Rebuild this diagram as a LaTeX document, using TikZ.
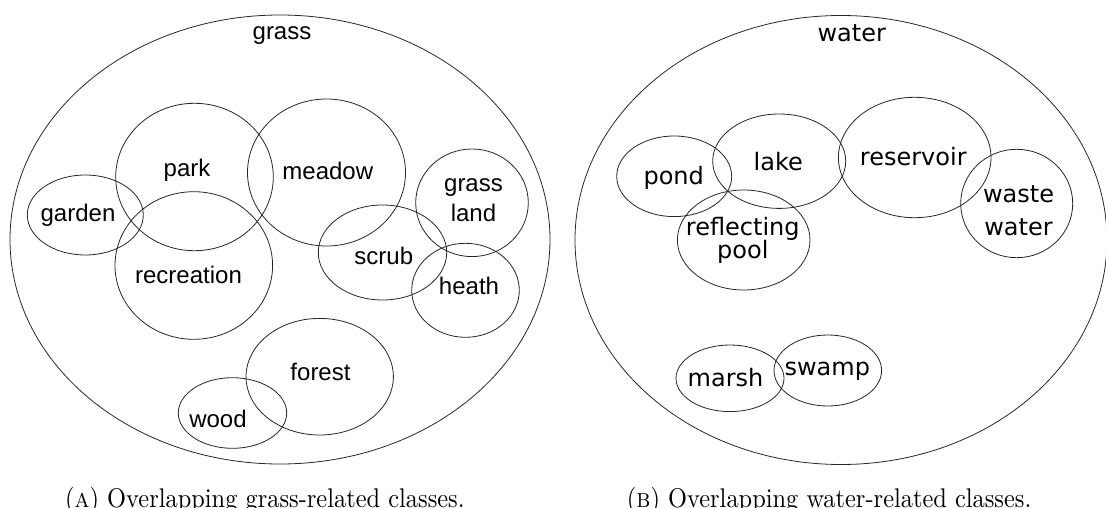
\documentclass[tikz,border=0pt]{standalone}
\usepackage{fontspec}
\usepackage{graphicx}
\newfontfamily\grassfont{Liberation Sans}
\newfontfamily\waterfont{DejaVu Sans}
\begin{document}
\begin{tikzpicture}[x=1pt,y=-1pt,
  region/.style={draw=black!85, line width=0.8pt},
  glabel/.style={font=\grassfont\fontsize{24}{29.3}\selectfont, anchor=base, inner sep=0pt, align=center},
  wlabel/.style={font=\waterfont\fontsize{24}{23.5}\selectfont, anchor=base, inner sep=0pt, align=center},
  figcaption/.style={anchor=base west, inner sep=0pt}]
\useasboundingbox (0,0) rectangle (1106,508);
\clip (0,0) rectangle (1106,508);

% ---------- grass-related classes ----------
\draw[region] (280,239.5) ellipse [x radius=270, y radius=224.5];
\draw[region] (194.5,177) ellipse [x radius=78.8, y radius=73.7];   % park
\draw[region] (326.5,172.5) ellipse [x radius=79, y radius=73.5];   % meadow
\draw[region] (85.3,215) ellipse [x radius=58, y radius=40];        % garden
\draw[region] (193.8,265.5) ellipse [x radius=78.8, y radius=73.8]; % recreation
\draw[region] (472,202.8) ellipse [x radius=56.3, y radius=53.8];   % grass land
\draw[region] (382.5,252.5) ellipse [x radius=64.2, y radius=47.5]; % scrub
\draw[region] (465.5,290.3) ellipse [x radius=53.8, y radius=47];   % heath
\draw[region] (319.7,376.7) ellipse [x radius=73.7, y radius=58.3]; % forest
\draw[region] (232.5,413) ellipse [x radius=54.2, y radius=35.3];   % wood

% labels; for two-line labels the base anchor is the last line's baseline
\node[glabel] (grass)      at (282,40)    {grass};
\node[glabel] (park)       at (187,176)   {park};
\node[glabel] (meadow)     at (327.8,179) {meadow};
\node[glabel] (garden)     at (78,221)    {garden};
\node[glabel] (recreation) at (188.5,283) {recreation};
\node[glabel] (grassland)  at (473.5,221) {grass\\land};
\node[glabel] (scrub)      at (383.8,264.5) {scrub};
\node[glabel] (heath)      at (469,294.5) {heath};
\node[glabel] (forest)     at (320.5,380) {forest};
\node[glabel] (wood)       at (218,427)   {wood};

% ---------- water-related classes ----------
\draw[region] (841,240) ellipse [x radius=266, y radius=224.5];
\draw[region] (674.2,176.3) ellipse [x radius=57.5, y radius=40.3]; % pond
\draw[region] (779.2,161.2) ellipse [x radius=66.5, y radius=47.2]; % lake
\draw[region] (743.7,240) ellipse [x radius=66.3, y radius=50];     % reflecting pool
\draw[region] (914.7,157.5) ellipse [x radius=76.3, y radius=60.2]; % reservoir
\draw[region] (1016.7,203.5) ellipse [x radius=56, y radius=54.2];  % waste water
\draw[region] (730,378.3) ellipse [x radius=54, y radius=33.3];     % marsh
\draw[region] (827.8,370.5) ellipse [x radius=53.8, y radius=35.5]; % swamp

\node[wlabel] (water)      at (851.7,41.5) {water};
\node[wlabel] (pond)       at (673.7,184)  {pond};
\node[wlabel] (lake)       at (778.3,170.5) {lake};
\node[wlabel] (reflecting) at (742.8,258.5) {reflecting\\pool};
\node[wlabel] (reservoir)  at (913.3,165.5) {reservoir};
\node[wlabel, font=\waterfont\fontsize{24}{33}\selectfont] (waste) at (1018.5,235) {waste\\water};
\node[wlabel] (marsh)      at (725.5,386)  {marsh};
\node[wlabel] (swamp)      at (827.3,375)  {swamp};

% ---------- sub-figure captions (slightly tall lettering) ----------
\node[figcaption] (capa) at (65,507.5)
  {\scalebox{2.44}[2.7]{(\textsc{a}) Overlapping grass-related classes.}};
\node[figcaption] (capb) at (626.7,507.5)
  {\scalebox{2.44}[2.7]{(\textsc{b}) Overlapping water-related classes.}};
\end{tikzpicture}
\end{document}
